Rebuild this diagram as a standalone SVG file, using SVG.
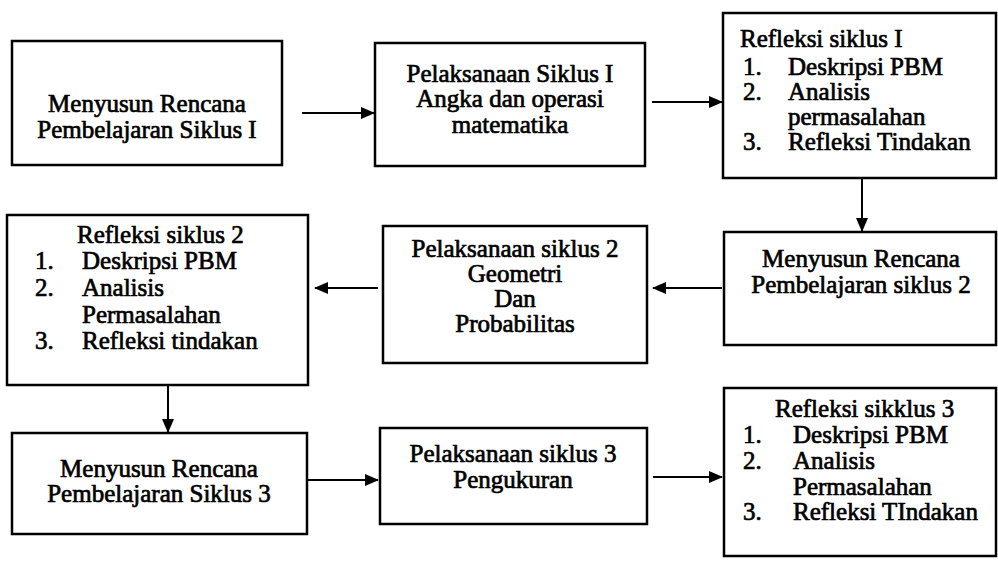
<svg xmlns="http://www.w3.org/2000/svg" width="998" height="564" viewBox="0 0 998 564">
<style>
.box{fill:#fff;stroke:#000;stroke-width:2.5}
.t{font-family:"Liberation Serif","Times New Roman",serif;font-size:25px;fill:#000;stroke:#000;stroke-width:0.7}
.c{text-anchor:middle}
.ln{stroke:#000;stroke-width:2;fill:none}
</style>
<defs>
<marker id="ah" markerWidth="14" markerHeight="12" refX="13" refY="6" orient="auto" markerUnits="userSpaceOnUse" viewBox="0 0 14 12">
<path d="M0,0 L14,6 L0,12 z" fill="#000"/>
</marker>
</defs>
<rect width="998" height="564" fill="#fff"/>
<g id="connectors">
<line class="ln" x1="302" y1="113" x2="374" y2="113" marker-end="url(#ah)"/>
<line class="ln" x1="652" y1="102" x2="722" y2="102" marker-end="url(#ah)"/>
<line class="ln" x1="862" y1="178" x2="862" y2="231" marker-end="url(#ah)"/>
<line class="ln" x1="722" y1="288" x2="653" y2="288" marker-end="url(#ah)"/>
<line class="ln" x1="378" y1="288" x2="315" y2="288" marker-end="url(#ah)"/>
<line class="ln" x1="168" y1="385" x2="168" y2="432" marker-end="url(#ah)"/>
<line class="ln" x1="307" y1="480" x2="378" y2="480" marker-end="url(#ah)"/>
<line class="ln" x1="653" y1="477" x2="722" y2="477" marker-end="url(#ah)"/>
</g>
<g id="n1">
<rect class="box" x="12" y="41" width="270" height="124"/>
<text class="t c" x="147" y="112">Menyusun Rencana</text>
<text class="t c" x="147" y="138">Pembelajaran Siklus I</text>
</g>
<g id="n2">
<rect class="box" x="375" y="43" width="270" height="123"/>
<text class="t c" x="510" y="82">Pelaksanaan Siklus I</text>
<text class="t c" x="510" y="107">Angka dan operasi</text>
<text class="t c" x="510" y="133">matematika</text>
</g>
<g id="n3">
<rect class="box" x="723" y="13" width="273" height="165"/>
<text class="t" x="740" y="47">Refleksi siklus I</text>
<text class="t" x="743" y="75">1.</text><text class="t" x="788" y="75">Deskripsi PBM</text>
<text class="t" x="743" y="100">2.</text><text class="t" x="788" y="100">Analisis</text>
<text class="t" x="788" y="125">permasalahan</text>
<text class="t" x="743" y="150">3.</text><text class="t" x="788" y="150">Refleksi Tindakan</text>
</g>
<g id="n4">
<rect class="box" x="724" y="232" width="272" height="113"/>
<text class="t c" x="861" y="267">Menyusun Rencana</text>
<text class="t c" x="861" y="293">Pembelajaran siklus 2</text>
</g>
<g id="n5">
<rect class="box" x="383" y="226" width="264" height="137"/>
<text class="t c" x="515" y="257">Pelaksanaan siklus 2</text>
<text class="t c" x="515" y="282">Geometri</text>
<text class="t c" x="515" y="307">Dan</text>
<text class="t c" x="515" y="332">Probabilitas</text>
</g>
<g id="n6">
<rect class="box" x="7" y="215" width="301" height="170"/>
<text class="t" x="77" y="243">Refleksi siklus 2</text>
<text class="t" x="35" y="269">1.</text><text class="t" x="82" y="269">Deskripsi PBM</text>
<text class="t" x="35" y="296">2.</text><text class="t" x="82" y="296">Analisis</text>
<text class="t" x="82" y="323">Permasalahan</text>
<text class="t" x="35" y="349">3.</text><text class="t" x="82" y="349">Refleksi tindakan</text>
</g>
<g id="n7">
<rect class="box" x="12" y="433" width="295" height="101"/>
<text class="t c" x="159" y="477">Menyusun Rencana</text>
<text class="t c" x="159" y="502">Pembelajaran Siklus 3</text>
</g>
<g id="n8">
<rect class="box" x="380" y="428" width="267" height="96"/>
<text class="t c" x="513" y="462">Pelaksanaan siklus 3</text>
<text class="t c" x="513" y="488">Pengukuran</text>
</g>
<g id="n9">
<rect class="box" x="724" y="388" width="272" height="168"/>
<text class="t" x="775" y="417">Refleksi sikklus 3</text>
<text class="t" x="743" y="443">1.</text><text class="t" x="793" y="443">Deskripsi PBM</text>
<text class="t" x="743" y="469">2.</text><text class="t" x="793" y="469">Analisis</text>
<text class="t" x="793" y="495">Permasalahan</text>
<text class="t" x="743" y="520">3.</text><text class="t" x="793" y="520">Refleksi TIndakan</text>
</g>
</svg>
